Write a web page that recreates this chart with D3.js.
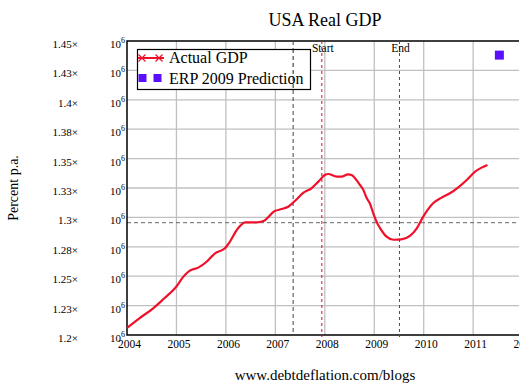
<!DOCTYPE html>
<html>
<head>
<meta charset="utf-8">
<script src="https://cdn.jsdelivr.net/npm/d3@7"></script>
<style>
  body { margin: 0; background: #fff; }
  text { font-family: "Liberation Serif", "DejaVu Serif", serif; fill: #000; }
</style>
</head>
<body>
<svg id="chart"></svg>
<script>
// actual GDP (year fraction, $)
const years = [2004.00, 2004.25, 2004.53, 2004.75, 2004.97, 2005.17, 2005.27, 2005.44, 2005.61, 2005.78,
  2005.98, 2006.08, 2006.22, 2006.39, 2006.62, 2006.76, 2006.99, 2007.13, 2007.26, 2007.40,
  2007.57, 2007.73, 2007.87, 2008.00, 2008.07, 2008.24, 2008.34, 2008.47, 2008.54, 2008.64,
  2008.71, 2008.78, 2008.85, 2008.91, 2008.98, 2009.08, 2009.12, 2009.25, 2009.39, 2009.55,
  2009.72, 2009.86, 2009.99, 2010.19, 2010.36, 2010.53, 2010.70, 2010.87, 2011.04, 2011.17, 2011.29];
const gdp = [1.206e6, 1.2142e6, 1.2227e6, 1.2310e6, 1.2397e6, 1.2510e6, 1.2547e6, 1.2573e6, 1.2623e6, 1.2695e6,
  1.2737e6, 1.2793e6, 1.2893e6, 1.2958e6, 1.2958e6, 1.2970e6, 1.3054e6, 1.3071e6, 1.3091e6, 1.3142e6,
  1.3210e6, 1.3247e6, 1.3304e6, 1.3360e6, 1.3369e6, 1.3346e6, 1.3346e6, 1.3366e6, 1.3360e6, 1.3318e6,
  1.3276e6, 1.3233e6, 1.3162e6, 1.3120e6, 1.3035e6, 1.2935e6, 1.2907e6, 1.2836e6, 1.2810e6, 1.2813e6,
  1.2842e6, 1.2907e6, 1.3006e6, 1.3120e6, 1.3168e6, 1.3205e6, 1.3256e6, 1.3318e6, 1.3389e6, 1.3423e6, 1.3446e6];

// ERP 2009 prediction
const predYear = [2011.53];
const predGdp = [1.438e6];

// reference lines
const blackLineYears = [2007.36];
const recessionYears = [2007.94, 2009.51];
const recessionLabels = ["Start", "End"];
const refLevel = [1.2955e6];

const xTicks = [2004, 2005, 2006, 2007, 2008, 2009, 2010, 2011, 2012];
const yTicks = [1.2e6, 1.225e6, 1.25e6, 1.275e6, 1.3e6, 1.325e6, 1.35e6, 1.375e6, 1.4e6, 1.425e6, 1.45e6];
const yTickLabels = ["1.2", "1.23", "1.25", "1.28", "1.3", "1.33", "1.35", "1.38", "1.4", "1.43", "1.45"];

// the original picture is cropped just right of the plot
const W = 520, H = 390;
const pLeft = 127, pRight = 519, pTop = 41, pBottom = 335;

const svg = d3.select("#chart").attr("width", W).attr("height", H);

const x = d3.scaleLinear([2004, 2012], [pLeft, 522.6]);
const y = d3.scaleLinear([1.2e6, 1.45e6], [pBottom, pTop]);

// grid
svg.append("g")
  .selectAll("line")
  .data(xTicks.filter(d => x(d) > pLeft + 1 && x(d) < pRight))
  .join("line")
  .attr("x1", d => x(d)).attr("x2", d => x(d))
  .attr("y1", pTop).attr("y2", pBottom)
  .attr("stroke", "#c0c0c0").attr("stroke-width", 1.3);
svg.append("g")
  .selectAll("line")
  .data(yTicks.slice(1, -1))
  .join("line")
  .attr("x1", pLeft).attr("x2", pRight)
  .attr("y1", d => y(d)).attr("y2", d => y(d))
  .attr("stroke", "#c0c0c0").attr("stroke-width", 1.3);

// horizontal reference level
svg.append("line")
  .attr("x1", pLeft).attr("x2", pRight)
  .attr("y1", y(refLevel[0])).attr("y2", y(refLevel[0]))
  .attr("stroke", "#666").attr("stroke-width", 1)
  .attr("stroke-dasharray", "4,3");

// frame (left, top, bottom)
svg.append("path")
  .attr("d", `M${pRight},${pTop}H${pLeft}V${pBottom}H${pRight}`)
  .attr("fill", "none").attr("stroke", "#000").attr("stroke-width", 1.5);

// x labels
const xAxis = d3.axisBottom(x).tickValues(xTicks).tickSize(0).tickPadding(0).tickFormat(d3.format("d"));
const gx = svg.append("g").attr("transform", `translate(2,${pBottom + 5})`).call(xAxis);
gx.select(".domain").remove();
gx.selectAll("text").attr("font-size", 11.5).attr("fill", "#000");

// y labels: "1.45×   10^6"
const gy = svg.append("g");
gy.selectAll("text.m")
  .data(yTicks)
  .join("text")
  .attr("class", "m")
  .attr("x", 78).attr("y", d => y(d) + 7)
  .attr("text-anchor", "end").attr("font-size", 11)
  .text((d, i) => yTickLabels[i] + "\u00d7");
const pow = gy.selectAll("text.p")
  .data(yTicks)
  .join("text")
  .attr("class", "p")
  .attr("x", 110).attr("y", d => y(d) + 7)
  .attr("font-size", 11);
pow.append("tspan").text("10");
pow.append("tspan").attr("dy", -5).attr("font-size", 8).text("6");

// vertical dashed lines
svg.append("g")
  .selectAll("line")
  .data(blackLineYears)
  .join("line")
  .attr("x1", d => x(d)).attr("x2", d => x(d))
  .attr("y1", pTop).attr("y2", pBottom)
  .attr("stroke", "#444").attr("stroke-dasharray", "4,3");

// GDP line
const line = d3.line().x(d => x(d[0])).y(d => y(d[1])).curve(d3.curveMonotoneX);
svg.append("path")
  .datum(years.map((t, i) => [t, gdp[i]]))
  .attr("d", line)
  .attr("fill", "none").attr("stroke", "#f0102a").attr("stroke-width", 2.2);

// recession lines + labels
svg.append("g")
  .selectAll("line")
  .data(recessionYears)
  .join("line")
  .attr("x1", d => x(d)).attr("x2", d => x(d))
  .attr("y1", pTop).attr("y2", pBottom + 2)
  .attr("stroke", "#d0102a").attr("stroke-dasharray", "3,3");
svg.append("g")
  .selectAll("text")
  .data(recessionYears)
  .join("text")
  .attr("x", d => x(d) + 1).attr("y", pTop + 11)
  .attr("text-anchor", "middle").attr("font-size", 11.5)
  .text((d, i) => recessionLabels[i]);

// prediction point
svg.append("g")
  .selectAll("rect")
  .data(predYear.map((t, i) => [t, predGdp[i]]))
  .join("rect")
  .attr("x", d => x(d[0]) - 4.5).attr("y", d => y(d[1]) - 4.5)
  .attr("width", 9).attr("height", 9)
  .attr("fill", "#5a10ff");

// legend
const lg = svg.append("g");
lg.append("rect").attr("x", 137.5).attr("y", 49.5).attr("width", 173).attr("height", 40)
  .attr("fill", "#fff").attr("stroke", "#000").attr("stroke-width", 1.2);
lg.append("line").attr("x1", 138).attr("x2", 164).attr("y1", 58).attr("y2", 58)
  .attr("stroke", "#f0102a").attr("stroke-width", 2);
[142, 159].forEach(cx => {
  lg.append("path").attr("d", `M${cx - 3.5},${54.5}L${cx + 3.5},${61.5}M${cx - 3.5},${61.5}L${cx + 3.5},${54.5}`)
    .attr("stroke", "#f0102a").attr("stroke-width", 1.2);
});
lg.append("text").attr("x", 169).attr("y", 63).attr("font-size", 16).text("Actual GDP");
[138.5, 153.5].forEach(sx => {
  lg.append("rect").attr("x", sx).attr("y", 74).attr("width", 8).attr("height", 8).attr("fill", "#5a10ff");
});
lg.append("text").attr("x", 169).attr("y", 84).attr("font-size", 16).text("ERP 2009 Prediction");

// black dashed line drawn over the legend
svg.append("line")
  .attr("x1", x(blackLineYears[0])).attr("x2", x(blackLineYears[0]))
  .attr("y1", 49).attr("y2", 91)
  .attr("stroke", "#222").attr("stroke-dasharray", "4,3");

// titles
svg.append("text").attr("x", 325).attr("y", 26).attr("text-anchor", "middle")
  .attr("font-size", 18).text("USA Real GDP");
svg.append("text").attr("transform", "translate(18,188) rotate(-90)")
  .attr("text-anchor", "middle").attr("font-size", 14).text("Percent p.a.");
svg.append("text").attr("x", 325).attr("y", 380).attr("text-anchor", "middle")
  .attr("font-size", 15).text("www.debtdeflation.com/blogs");
</script>
</body>
</html>
